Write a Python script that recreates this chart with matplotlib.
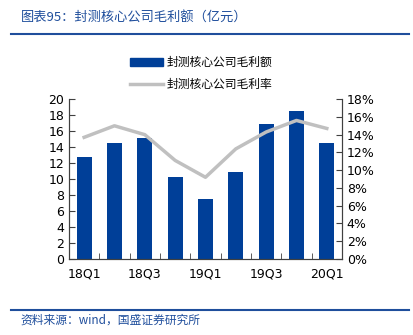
import numpy as np
import matplotlib

matplotlib.use("Agg")
import matplotlib.pyplot as plt
from matplotlib.lines import Line2D

plt.rcParams["font.family"] = ["DejaVu Sans", "Noto Sans CJK SC"]

quarters = ["18Q1", "18Q2", "18Q3", "18Q4", "19Q1", "19Q2", "19Q3", "19Q4", "20Q1"]
gross_profit = [12.8, 14.5, 15.1, 10.3, 7.5, 10.9, 16.9, 18.5, 14.5]  # 亿元
gross_margin = [13.7, 15.0, 14.0, 11.1, 9.2, 12.4, 14.3, 15.6, 14.7]  # %

bar_color = "#003f98"
line_color = "#c0c0c0"
blue_text = "#1f4e9c"
cjk = ["Noto Sans CJK SC", "DejaVu Sans"]

fig = plt.figure(figsize=(4.13, 3.35), dpi=100)
ax = fig.add_axes([0.167, 0.227, 0.661, 0.477])
ax2 = ax.twinx()

x = np.arange(len(quarters))
ax.bar(x, gross_profit, width=0.5, color=bar_color, zorder=2)
ax2.plot(x, gross_margin, color=line_color, lw=2.5, zorder=3)

ax.set_xlim(-0.5, len(quarters) - 0.5)
ax.set_ylim(0, 20)
ax.set_yticks(range(0, 21, 2))
ax2.set_ylim(0, 18)
ax2.set_yticks(range(0, 19, 2))
ax2.set_yticklabels([f"{v}%" for v in range(0, 19, 2)])

ax.set_xticks(x[::2])
ax.set_xticklabels(quarters[::2])
ax.set_xticks(np.arange(-0.5, len(quarters)), minor=True)
ax.tick_params(axis="x", which="major", length=0, labelsize=9, pad=6)
ax.tick_params(axis="x", which="minor", direction="in", length=4, color="#404040")
ax.tick_params(axis="y", direction="in", length=4, labelsize=9, color="#404040")
ax2.tick_params(axis="y", direction="in", length=4, labelsize=9, color="#404040")

for a in (ax, ax2):
    a.spines["top"].set_visible(False)
    for s in ("left", "right", "bottom"):
        a.spines[s].set_color("#404040")
        a.spines[s].set_linewidth(0.8)

ax.set_zorder(ax2.get_zorder() - 1)
ax.patch.set_visible(True)
ax2.patch.set_visible(False)

handles = [
    plt.Rectangle((0, 0), 1, 1, color=bar_color),
    Line2D([0], [0], color=line_color, lw=2.5),
]
fig.legend(handles, ["封测核心公司毛利额", "封测核心公司毛利率"],
           loc="upper left", bbox_to_anchor=(0.29, 0.865), frameon=False,
           prop={"family": cjk, "size": 8.5}, handlelength=2.8,
           handletextpad=0.3, labelspacing=0.8)

fig.text(0.05, 0.945, "图表95：封测核心公司毛利额（亿元）", color=blue_text,
         fontsize=9.5, family=cjk, style="italic", va="center")
fig.add_artist(Line2D([0.027, 0.99], [0.898, 0.898], color=blue_text, lw=1.5))
fig.add_artist(Line2D([0.027, 0.99], [0.075, 0.075], color=blue_text, lw=1.5))
fig.text(0.05, 0.045, "资料来源：wind，国盛证券研究所", color=blue_text,
         fontsize=8.5, family=cjk, style="italic", va="center")

fig.savefig("out.png", dpi=100)
